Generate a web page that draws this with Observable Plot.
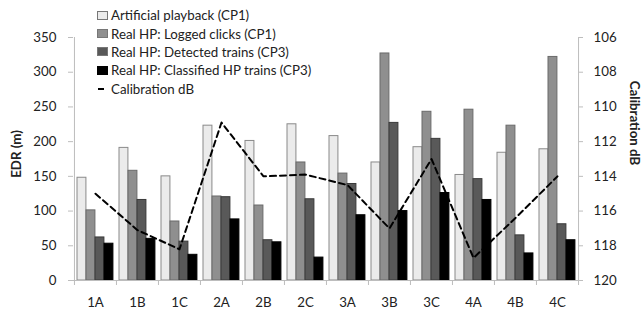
<!DOCTYPE html>
<html><head><meta charset="utf-8">
<script src="https://cdn.jsdelivr.net/npm/d3@7"></script>
<script src="https://cdn.jsdelivr.net/npm/@observablehq/plot@0.6"></script>
<style>
body{margin:0;background:#fff;}
#wrap{position:relative;width:643px;height:310px;font-family:Lato,sans-serif;}
#legend{position:absolute;left:97px;top:6px;font-size:13.3px;color:#222;}
.row{display:flex;align-items:center;height:18.4px;white-space:nowrap;}
.sw{width:11px;height:9px;box-sizing:border-box;border:1px solid #777;margin-right:3px;}
.dash{width:6px;height:0;border-top:2px solid #000;margin:0 7px 0 1px;}
</style></head>
<body><div id="wrap"><div id="legend"></div></div>
<script>
const categories = ["1A","1B","1C","2A","2B","2C","3A","3B","3C","4A","4B","4C"];
const seriesNames = ["Artificial playback (CP1)","Real HP: Logged clicks (CP1)","Real HP: Detected trains (CP3)","Real HP: Classified HP trains (CP3)"];
const lineName = "Calibration dB";
const artificial = [148,191,150,223,201,225,208,170,192,152,184,189];
const logged     = [101,158, 85,121,108,170,154,327,243,246,223,322];
const detected   = [ 62,116, 56,120, 58,117,139,227,204,146, 65, 81];
const classified = [ 53, 60, 37, 88, 55, 33, 94,100,126,116, 39, 58];
const calibration = [115.0,117.1,118.2,110.9,114.0,113.9,114.5,117.0,113.0,118.7,116.4,114.0];
const edrTicks = [0,50,100,150,200,250,300,350];
const dbTicks = [106,108,110,112,114,116,118,120];

const fills = ["#ebebeb","#8f8f8f","#595959","#000000"];
const strokes = ["#8a8a8a","#6a6a6a","#3a3a3a","#000000"];
const axisColor = "#bdbdbd";

const W = 643, H = 310, mL = 73, mR = 65, mT = 37, mB = 30;
const bw = (W - mL - mR) / categories.length;
const seriesArrays = [artificial, logged, detected, classified];
const rows = categories.map((c, i) => ({cat: c, v: seriesArrays.map(a => a[i]), db: calibration[i]}));
// secondary (right) axis: dB reversed, mapped onto the EDR scale
const dbToEdr = d3.scaleLinear().domain([120, 106]).range([0, 350]);

const barMarks = seriesArrays.map((a, k) => Plot.barY(rows, {
  x: "cat", y: d => d.v[k], fill: fills[k], stroke: strokes[k], strokeWidth: 1,
  insetLeft: 3 + k * 9, insetRight: bw - 3 - (k + 1) * 9
}));

const chart = Plot.plot({
  width: W, height: H, marginLeft: mL, marginRight: mR, marginTop: mT, marginBottom: mB,
  style: {fontFamily: "Lato, sans-serif", fontSize: "13.3px", color: "#222", background: "transparent"},
  x: {type: "band", domain: categories, padding: 0},
  y: {domain: [0, 350]},
  marks: [
    ...barMarks,
    Plot.ruleY([0], {stroke: axisColor}),
    Plot.ruleX([categories[0]], {dx: -bw / 2, stroke: axisColor}),
    Plot.ruleX([categories[categories.length - 1]], {dx: bw / 2, stroke: axisColor}),
    Plot.ruleX(categories, {x: d => d, dx: -bw / 2, y1: 0, y2: 0, insetBottom: -5, stroke: axisColor}),
    Plot.ruleX([categories[categories.length - 1]], {x: d => d, dx: bw / 2, y1: 0, y2: 0, insetBottom: -5, stroke: axisColor}),
    Plot.axisY(edrTicks, {anchor: "left", tickSize: 5, tickPadding: 12, stroke: axisColor, fill: "#222", label: null}),
    Plot.axisY(dbTicks.map(dbToEdr), {anchor: "right", tickSize: 4, tickPadding: 11, stroke: axisColor, fill: "#222", label: null,
      tickFormat: v => String(Math.round(dbToEdr.invert(v)))}),
    Plot.axisX({tickSize: 0, tickPadding: 17, fill: "#222", label: null}),
    Plot.line(rows, {x: "cat", y: d => dbToEdr(d.db), stroke: "#000", strokeWidth: 2, strokeDasharray: "6,4"}),
    Plot.text(["EDR (m)"], {frameAnchor: "left", textAnchor: "middle", dx: -57, dy: -5, rotate: -90, fontWeight: "bold", fontSize: 13.3, fill: "#222"}),
    Plot.text([lineName], {frameAnchor: "right", textAnchor: "middle", dx: 56, dy: -36, rotate: 90, fontWeight: "bold", fontSize: 13.3, fill: "#222"})
  ]
});
document.getElementById("wrap").prepend(chart);

const legend = document.getElementById("legend");
seriesNames.forEach((name, k) => {
  const r = document.createElement("div"); r.className = "row";
  const s = document.createElement("span"); s.className = "sw";
  s.style.background = fills[k]; s.style.borderColor = strokes[k] === "#000000" ? "#000" : "#777";
  const t = document.createElement("span"); t.textContent = name;
  r.append(s, t); legend.append(r);
});
{
  const r = document.createElement("div"); r.className = "row";
  const s = document.createElement("span"); s.className = "dash";
  const t = document.createElement("span"); t.textContent = lineName;
  r.append(s, t); legend.append(r);
}
</script>
</body></html>
